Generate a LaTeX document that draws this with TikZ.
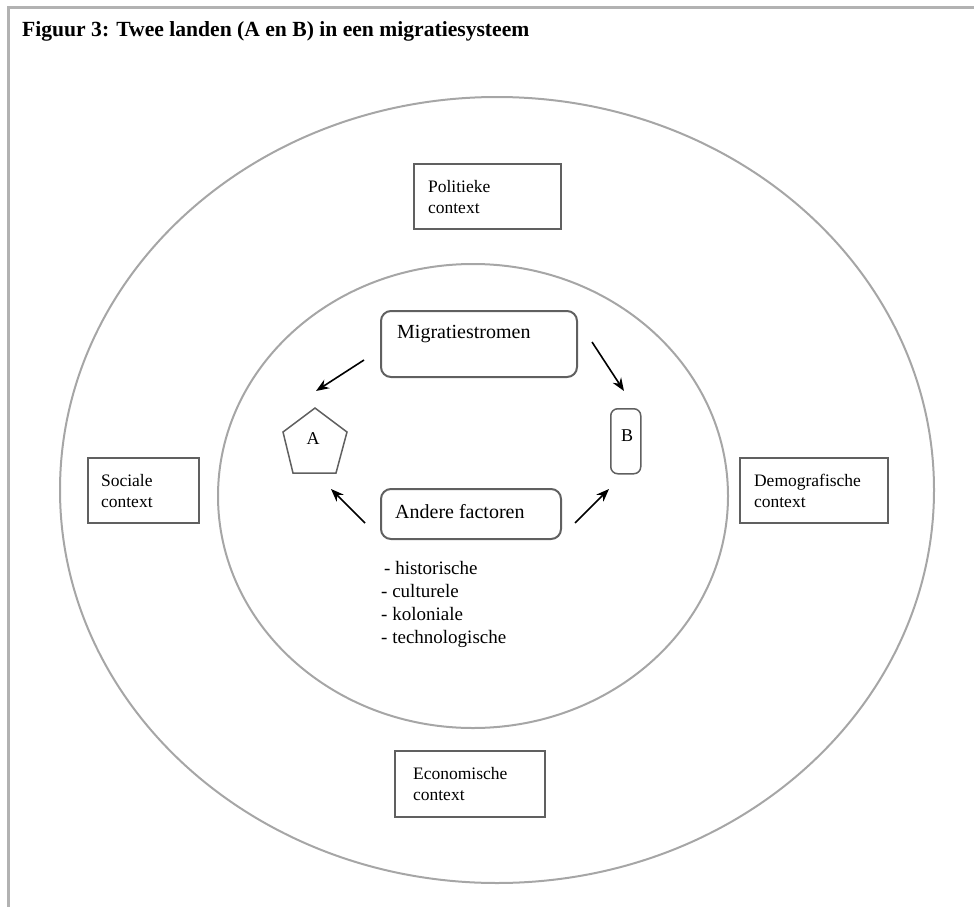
\documentclass[tikz,border=0pt]{standalone}
\usepackage{fontspec}
\setmainfont{Liberation Serif}
\usetikzlibrary{arrows.meta}
\tikzset{
  ctx/.style={draw=gray!75!black, line width=2.2pt, fill=white, rectangle, inner sep=0pt,
    align=left, font=\fontsize{17.5}{21}\selectfont, anchor=north west},
  rbox/.style={draw=gray!75!black, line width=2pt, rounded corners=10pt, inner sep=0pt, anchor=north west},
  ring/.style={draw=gray!70, line width=2pt},
  arr/.style={-{Stealth[length=13pt,width=10pt]}, line width=1.6pt, black},
  lbl/.style={anchor=base west, inner sep=0pt},
}
\begin{document}
\begin{tikzpicture}[x=1pt,y=-1pt]
\useasboundingbox (0,0) rectangle (974,907);
% frame
\draw[gray!60, line width=3pt] (8,907) -- (8,8) -- (974,8);
\node[lbl, font=\bfseries\fontsize{21.6}{24}\selectfont] (title) at (22,37) {Figuur 3: Twee landen (A en B) in een migratiesysteem};
% ellipses
\draw[ring] (497,490) ellipse [x radius=437, y radius=393];
\draw[ring] (473,496) ellipse [x radius=255, y radius=232];
% context boxes
\node[ctx, minimum width=147pt, minimum height=65pt, text width=119pt] (pol) at (413,163) {Politieke\\context};
\node[ctx, minimum width=111pt, minimum height=65pt, text width=85pt] (soc) at (87,457) {Sociale\\context};
\node[ctx, minimum width=148pt, minimum height=65pt, text width=120pt] (dem) at (739,457) {Demografische\\context};
\node[ctx, minimum width=150pt, minimum height=66pt, text width=114pt] (eco) at (394,750) {Economische\\context};
% inner nodes
\node[rbox, minimum width=196pt, minimum height=66pt] (mig) at (380,310) {};
\node[lbl, font=\fontsize{20}{24}\selectfont] (migt) at (397,338) {Migratiestromen};
\node[rbox, minimum width=180pt, minimum height=50pt] (and) at (380,488) {};
\node[lbl, font=\fontsize{20}{24}\selectfont] (andt) at (395,518) {Andere factoren};
% A pentagon
\draw[draw=gray!75!black, line width=1.5pt] (315,408) -- (347,432) -- (336,473) -- (293,473) -- (283,432) -- cycle;
\node[font=\fontsize{18}{20}\selectfont] (A) at (313,439) {A};
% B
\node[rbox, rounded corners=7pt, line width=1.5pt, minimum width=30pt, minimum height=65pt] (Bbox) at (610,408) {};
\node[font=\fontsize{18}{20}\selectfont] (B) at (627,436) {B};
% arrows
\coordinate (m1) at (364,360); \coordinate (a1) at (316,391);
\coordinate (m2) at (592,342); \coordinate (b1) at (624,391);
\coordinate (f1) at (365,523); \coordinate (a2) at (331,489);
\coordinate (f2) at (575,523); \coordinate (b2) at (609,489);
\draw[arr] (m1) -- (a1);
\draw[arr] (m2) -- (b1);
\draw[arr] (f1) -- (a2);
\draw[arr] (f2) -- (b2);
% list
\node[anchor=north west, align=left, inner sep=0pt, font=\fontsize{19}{23}\selectfont] (list) at (381,561)
 {\hspace*{3pt}- historische\\- culturele\\- koloniale\\- technologische};
\end{tikzpicture}
\end{document}
